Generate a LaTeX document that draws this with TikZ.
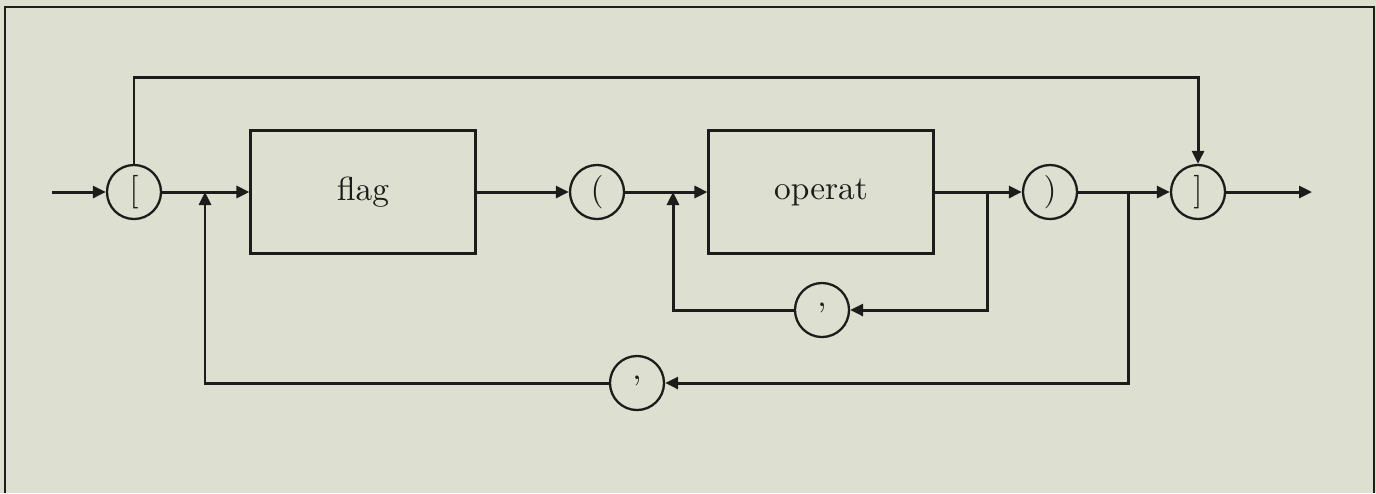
\documentclass[tikz,border=0pt]{standalone}
\usepackage{tikz}
\usetikzlibrary{arrows.meta,positioning}
\definecolor{paper}{RGB}{221,224,208}
\definecolor{ink}{RGB}{28,28,26}
\tikzset{
  term/.style={draw=ink, circle, line width=0.65pt, minimum size=0.54cm, inner sep=0pt},
  nonterm/.style={draw=ink, rectangle, minimum width=2.24cm, minimum height=1.22cm}
}
\begin{document}
\begin{tikzpicture}[x=0.01cm, y=-0.01cm, line width=0.85pt, draw=ink,
    every node/.style={font=\fontsize{9.5}{11}\selectfont, text=ink},
    >={Triangle[length=1.3mm,width=1.2mm]}]
  \useasboundingbox (0,0) rectangle (1376,493);
  \fill[paper] (0,0) rectangle (1376,493);
  % frame
  \draw[line width=0.6pt] (5,493) -- (5,7) -- (1374,7) -- (1374,493);
  % terminals and boxes
  \coordinate (start) at (52,192);
  \node[term] (lbr) at (134,192) {[};
  \coordinate (j1) at (205,192);
  \node[nonterm] (flag) at (363,192) {flag};
  \node[term] (lpar) at (597,192) {(};
  \coordinate (j2) at (673,192);
  \node[nonterm] (operat) at (821,192) {operat};
  \coordinate (j3) at (987,192);
  \node[term] (comma1) at (822,310) {\raisebox{0.7ex}{,}};
  \node[term] (rpar) at (1050,192) {)};
  \coordinate (j4) at (1128,192);
  \node[term] (comma2) at (637,383) {\raisebox{0.7ex}{,}};
  \node[term] (rbr) at (1198,192) {]};
  \coordinate (stop) at (1312,192);
  \coordinate (over) at (660,77);
  % main line
  \draw[->] (start) -- (lbr);
  \draw[->] (lbr) -- (flag);
  \draw[->] (flag) -- (lpar);
  \draw[->] (lpar) -- (operat);
  \draw[->] (operat) -- (rpar);
  \draw[->] (rpar) -- (rbr);
  \draw[->] (rbr) -- (stop);
  % bypass over the top
  \draw[->] (lbr.north) |- (over) -| (rbr.north);
  % loops back
  \draw[->] (j3) |- (comma1);
  \draw[->] (comma1) -| (j2);
  \draw[->] (j4) |- (comma2);
  \draw[->] (comma2) -| (j1);
\end{tikzpicture}
\end{document}
